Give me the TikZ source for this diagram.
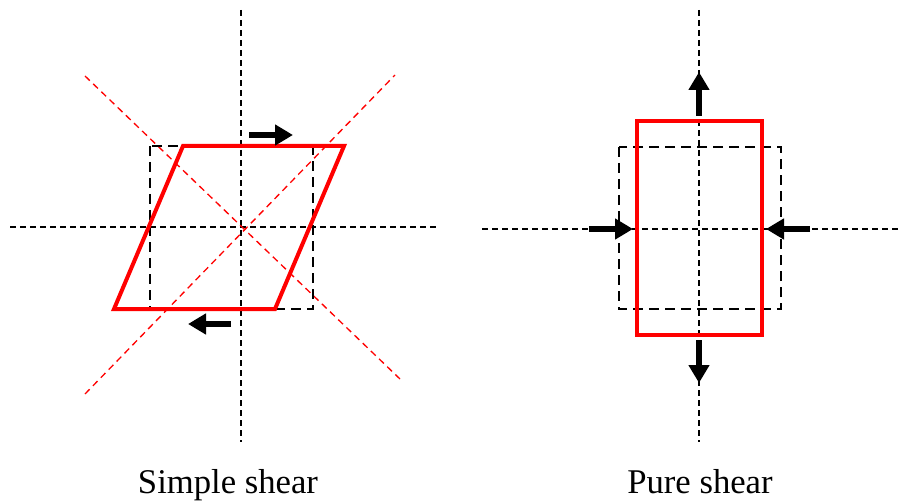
\documentclass[tikz,border=0pt]{standalone}
\usepackage{fontspec}
\setmainfont{Liberation Serif}
\usetikzlibrary{arrows.meta}
\begin{document}
\begin{tikzpicture}[x=0.75pt,y=-0.75pt,
  axis/.style={line width=1pt,dash pattern=on 4.5pt off 3pt},
  orig/.style={line width=1.9pt,dash pattern=on 7.5pt off 4.5pt},
  diag/.style={red,line width=1pt,dash pattern=on 5pt off 3.5pt},
  deformed/.style={red,line width=3pt,line join=miter},
  force/.style={line width=4.2pt,-{Triangle[length=13.5pt,width=15pt]}},
  lbl/.style={font=\fontsize{26}{30}\selectfont,anchor=base}]
\useasboundingbox (0,0) rectangle (901,503);
% ---------- Simple shear ----------
\draw[axis] (241,10) -- (241,442);
\draw[axis] (10,227) -- (440,227);
\draw[diag] (85,76) -- (400,379);
\draw[diag] (85,394) -- (395,75);
\draw[orig] (150,146) rectangle (313,309);
\draw[deformed] (183,146) -- (344,146) -- (275,309) -- (114,309) -- cycle;
\coordinate (t1) at (249,135); \coordinate (t2) at (293,135);
\coordinate (b1) at (231,324); \coordinate (b2) at (188,324);
\draw[force] (t1) -- (t2);
\draw[force] (b1) -- (b2);
\node[lbl] (s) at (228,493) {Simple shear};
% ---------- Pure shear ----------
\draw[axis] (699,10) -- (699,442);
\draw[axis] (482,229) -- (900,229);
\draw[orig] (619,147) rectangle (781,309);
\draw[deformed] (637,121) rectangle (762,335);
\coordinate (u1) at (699,116); \coordinate (u2) at (699,72);
\coordinate (d1) at (699,340); \coordinate (d2) at (699,383);
\coordinate (l1) at (589,229); \coordinate (l2) at (633,229);
\coordinate (r1) at (810,229); \coordinate (r2) at (766,229);
\draw[force] (u1) -- (u2);
\draw[force] (d1) -- (d2);
\draw[force] (l1) -- (l2);
\draw[force] (r1) -- (r2);
\node[lbl] (p) at (700,493) {Pure shear};
\end{tikzpicture}
\end{document}
